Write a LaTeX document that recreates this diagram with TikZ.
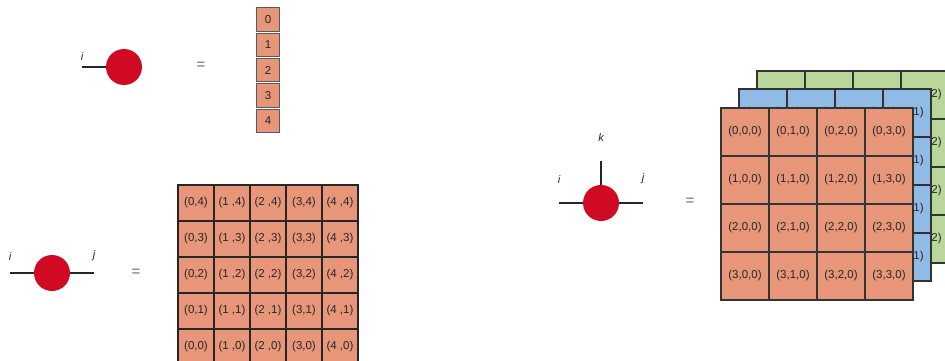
\documentclass[tikz,border=0pt]{standalone}
\usepackage{fontspec}
\setmainfont{Liberation Sans}
\usetikzlibrary{positioning}

\definecolor{tnred}{HTML}{CF0A22}
\definecolor{cellred}{HTML}{E8967A}
\definecolor{cellblue}{HTML}{8FBBE6}
\definecolor{cellgreen}{HTML}{B9D79B}

\begin{document}
\begin{tikzpicture}[
  x=1pt, y=-1pt,
  tensor/.style={circle, fill=tnred, minimum size=36pt, inner sep=0pt},
  leg/.style={draw=black!85, line width=1.5pt},
  idx/.style={inner sep=0pt, text=black!85, font=\fontsize{11}{12}\selectfont\itshape},
  eq/.style={text=black!60, font=\fontsize{15}{16}\selectfont},
  cellfont/.style={text=black!85, font=\fontsize{11.5}{13}\selectfont}
]
\tikzstyle{vcell}=[draw=black!65, line width=1pt, fill=cellred, cellfont, minimum width=23pt, minimum height=23.3pt, inner sep=0pt]
\tikzstyle{mcell}=[draw=black!85, line width=1.2pt, fill=cellred, cellfont, minimum size=36pt, inner sep=0pt]
\tikzstyle{tcell}=[draw=black!80, line width=1.2pt, cellfont, minimum size=48pt, inner sep=0pt]
\useasboundingbox (0,0) rectangle (945,361);

% Vector
\node [tensor] (vec) at (124,67) {};
\coordinate (vec-i) at (82,67);
\draw [leg] (vec-i) -- (vec);
\node [idx, above=6pt of vec-i] (vec-ilbl) {i};
\node [eq] (eq1) at (201,66) {=};
\foreach \n in {0,...,4}
  \node [vcell] (v\n) at (268, 19.5+25.3*\n) {\n};

% Matrix
\node [tensor] (mat) at (52,273) {};
\coordinate (mat-i) at (10,273);
\coordinate (mat-j) at (94,273);
\draw [leg] (mat-i) -- (mat) -- (mat-j);
\node [idx, above=12pt of mat-i] (mat-ilbl) {i};
\node [idx, above=12pt of mat-j] (mat-jlbl) {j};
\node [eq] (eq2) at (136,273) {=};
\foreach \c/\s in {0/,1/ ,2/ ,3/,4/ }
  \foreach \r in {0,...,4}
    \node [mcell] (m\c\r) at (196+36*\c, 347-36*\r) {(\c\s,\r)};

% Rank-3 tensor
\node [tensor] (ten) at (601,203) {};
\coordinate (ten-i) at (559,203);
\coordinate (ten-j) at (643,203);
\coordinate (ten-k) at (601,161);
\draw [leg] (ten-i) -- (ten) -- (ten-j);
\draw [leg] (ten) -- (ten-k);
\node [idx, above=19pt of ten-i] (ten-ilbl) {i};
\node [idx, above=19pt of ten-j] (ten-jlbl) {j};
\node [idx, above=19pt of ten-k] (ten-klbl) {k};
\node [eq] (eq3) at (690,202) {=};

% layers, back to front
\foreach \l/\col/\dx/\dy in {2/cellgreen/36/-37, 1/cellblue/18/-19, 0/cellred/0/0}
  \foreach \r in {0,...,3}
    \foreach \c in {0,...,3}
      \node [tcell, fill=\col] (t\r\c\l) at (745+48*\c+\dx, 132+48*\r+\dy) {(\r,\c,\l)};

\end{tikzpicture}
\end{document}
